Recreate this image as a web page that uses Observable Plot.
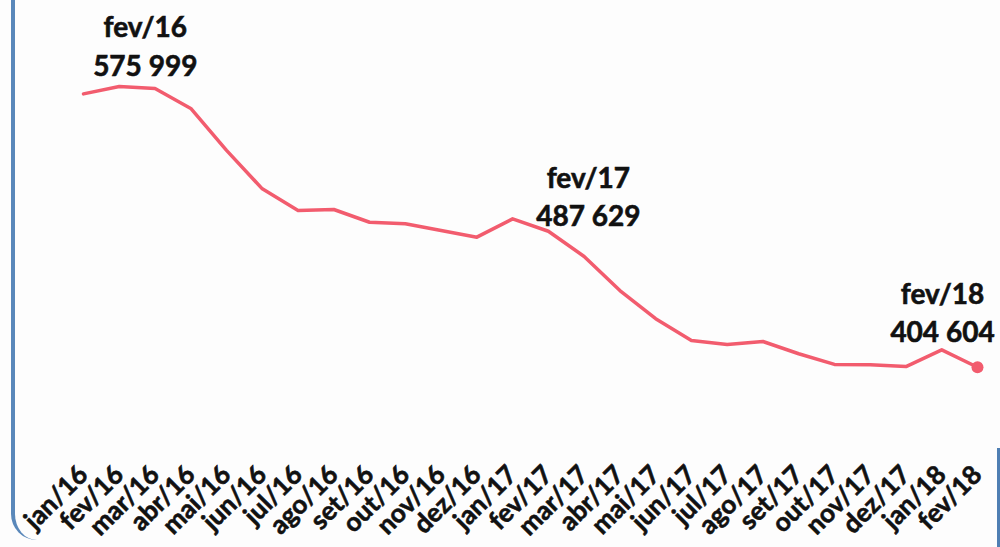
<!DOCTYPE html>
<html>
<head>
<meta charset="utf-8">
<script src="https://cdn.jsdelivr.net/npm/d3@7"></script>
<script src="https://cdn.jsdelivr.net/npm/@observablehq/plot@0.6"></script>
<style>
  html, body { margin: 0; padding: 0; background: #fff; }
  #wrap { position: relative; width: 1000px; height: 547px; overflow: hidden; background: #fdfdfd; }
  #wrap svg { position: absolute; left: 0; top: 0; }
  #frameL { position: absolute; left: 11px; top: -20px; width: 60px; height: 560px;
            border-left: 4px solid #5a88ba; border-bottom-left-radius: 26px; }
  #frameR { position: absolute; left: 997px; top: 448px; width: 3px; height: 120px; background: #4f7fb3; }
  svg text { paint-order: stroke; stroke: #111; stroke-width: 0.6px; }
</style>
</head>
<body>
<div id="wrap"><div id="frameL"></div><div id="frameR"></div></div>
<script>
const months = ["jan/16","fev/16","mar/16","abr/16","mai/16","jun/16","jul/16","ago/16","set/16","out/16","nov/16","dez/16",
                "jan/17","fev/17","mar/17","abr/17","mai/17","jun/17","jul/17","ago/17","set/17","out/17","nov/17","dez/17",
                "jan/18","fev/18"];
const values = [571500, 575999, 574800, 562600, 537000, 513500, 500300, 500900, 493100, 492200, 488100, 484000,
                495200, 487629, 472200, 451400, 434200, 420900, 418500, 420300, 412800, 406300, 406100, 405000,
                415200, 404604];
const annMonths = ["fev/16", "fev/17", "fev/18"];
const annValues = [575999, 487629, 404604];

const data = months.map((m, i) => ({i, month: m, value: values[i]}));
const fmt = d3.formatLocale({thousands: " ", grouping: [3], decimal: ",", currency: ["", ""]}).format(",d");
const ann = annMonths.map((m, k) => ({i: months.indexOf(m), value: annValues[k], label: m + "\n" + fmt(annValues[k])}));
const last = data[data.length - 1];

const font = "Lato, 'Open Sans', sans-serif";
const annText = (d, dx, dy) => Plot.text([d], {
  x: "i", y: "value", text: "label", dx, dy,
  lineAnchor: "bottom", lineHeight: 1.38, fontSize: 28, fontWeight: "bold",
  fill: "#111", fontFamily: font
});

const chart = Plot.plot({
  width: 1000,
  height: 547,
  marginLeft: 83,
  marginRight: 23,
  marginTop: 0,
  marginBottom: 80,
  style: {background: "transparent", fontFamily: font},
  x: {type: "linear", domain: [0, months.length - 1], range: [83, 977], label: null},
  y: {domain: [404604, 575999], range: [366.7, 86], axis: null},
  marks: [
    Plot.axisX({
      ticks: d3.range(months.length), tickFormat: (i) => months[i],
      tickSize: 0, tickPadding: 3, tickRotate: -45, label: null,
      fontSize: 26, fontWeight: "bold", fill: "#111", fontFamily: font
    }),
    Plot.line(data, {x: "i", y: "value", stroke: "#f25c6e", strokeWidth: 3.5, strokeLinejoin: "round"}),
    Plot.dot([last], {x: "i", y: "value", r: 6, fill: "#f25c6e"}),
    annText(ann[0], 26, -11),
    annText(ann[1], 40, -5),
    annText(ann[2], -35, -25)
  ]
});
document.getElementById("wrap").prepend(chart);
</script>
</body>
</html>
